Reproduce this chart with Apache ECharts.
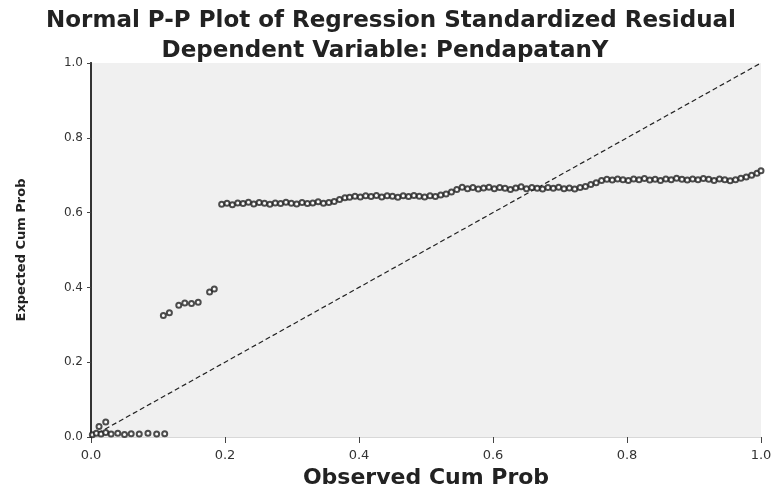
<!DOCTYPE html>
<html>
<head>
<meta charset="utf-8">
<script src="https://cdn.jsdelivr.net/npm/echarts@6/dist/echarts.min.js"></script>
<style>html,body{margin:0;padding:0;background:#fff}#c{width:777px;height:492px}</style>
</head>
<body>
<div id="c"></div>
<script>
var titleLine1 = 'Normal P-P Plot of Regression Standardized Residual';
var titleLine2 = 'Dependent Variable: PendapatanY';
var xAxisName = 'Observed Cum Prob';
var yAxisName = 'Expected Cum Prob';
var tickValues = [0, 0.2, 0.4, 0.6, 0.8, 1.0];
var tickLabels = ['0.0', '0.2', '0.4', '0.6', '0.8', '1.0'];

var observed = [
  0.002,0.008,0.012,0.015,0.022,0.022,0.030,0.040,0.050,0.060,0.072,0.085,0.098,0.110,
  0.108,0.117,0.131,0.140,0.150,0.160,0.177,0.184,
  0.195,0.203,0.211,0.219,0.227,0.235,0.243,0.251,0.259,0.267,0.275,0.283,0.291,0.299,0.307,0.315,0.323,0.331,0.339,0.347,0.355,0.363,0.371,0.379,
  0.386,0.394,0.402,0.410,0.418,0.426,0.434,0.442,0.450,0.458,0.466,0.474,0.482,0.490,0.498,0.506,0.514,0.522,0.530,0.538,0.546,0.554,
  0.562,0.570,0.578,0.586,0.594,0.602,0.610,0.618,0.626,0.634,0.642,0.650,0.658,0.666,0.674,0.682,0.690,0.698,0.706,0.714,0.722,0.730,0.738,0.746,0.754,
  0.762,0.770,0.778,0.786,0.794,0.802,0.810,0.818,0.826,0.834,0.842,0.850,0.858,0.866,0.874,0.882,0.890,0.898,0.906,0.914,0.922,0.930,0.938,0.946,0.954,0.962,0.970,0.978,0.986,0.994,1.000
];
var expected = [
  0.006,0.010,0.028,0.008,0.040,0.012,0.008,0.010,0.007,0.009,0.008,0.010,0.008,0.009,
  0.325,0.332,0.352,0.358,0.357,0.360,0.388,0.396,
  0.622,0.625,0.621,0.626,0.624,0.628,0.623,0.627,0.625,0.622,0.626,0.624,0.628,0.625,0.623,0.627,0.624,0.626,0.629,0.625,0.627,0.630,0.635,0.640,
  0.641,0.644,0.642,0.645,0.643,0.646,0.642,0.645,0.644,0.641,0.645,0.643,0.646,0.644,0.642,0.645,0.643,0.647,0.650,0.655,0.662,0.668,
  0.664,0.667,0.663,0.666,0.668,0.664,0.667,0.665,0.662,0.666,0.669,0.664,0.667,0.665,0.663,0.667,0.665,0.668,0.664,0.666,0.663,0.667,0.670,0.675,0.680,
  0.686,0.689,0.687,0.690,0.688,0.686,0.690,0.688,0.691,0.687,0.689,0.686,0.690,0.688,0.692,0.689,0.687,0.690,0.688,0.691,0.689,0.686,0.690,0.688,0.685,0.688,0.692,0.695,0.700,0.705,0.712
];
var diagX = [0, 1];
var diagY = [0, 1];

var points = observed.map(function (v, i) { return [v, expected[i]]; });
var diag = diagX.map(function (v, i) { return [v, diagY[i]]; });
function fmt(v) {
  for (var i = 0; i < tickValues.length; i++) { if (Math.abs(v - tickValues[i]) < 1e-6) return tickLabels[i]; }
  return '';
}

var chart = echarts.init(document.getElementById('c'), null, {renderer: 'canvas'});
chart.setOption({
  animation: false,
  backgroundColor: '#ffffff',
  title: [
    {text: titleLine1, left: 386, top: 5, textAlign: 'center',
     textStyle: {fontFamily: 'DejaVu Sans', fontWeight: 'bold', fontSize: 23, color: '#222'}},
    {text: titleLine2, left: 380, top: 35, textAlign: 'center',
     textStyle: {fontFamily: 'DejaVu Sans', fontWeight: 'bold', fontSize: 23, color: '#222'}}
  ],
  grid: {left: 91, right: 16, top: 63, bottom: 55, outerBoundsMode: 'none', containLabel: false,
         show: true, backgroundColor: '#f0f0f0', borderWidth: 0},
  xAxis: [
    {type: 'value', min: 0, max: 1, interval: 0.2, position: 'bottom',
     name: xAxisName, nameLocation: 'middle', nameGap: 28,
     nameTextStyle: {fontFamily: 'DejaVu Sans', fontWeight: 'bold', fontSize: 22, color: '#222'},
     axisLine: {show: true, lineStyle: {color: '#e6e6e6', width: 1}},
     axisTick: {show: true, length: 6, lineStyle: {color: '#444'}},
     axisLabel: {formatter: fmt, margin: 12, fontFamily: 'DejaVu Sans', fontSize: 13, color: '#333'},
     splitLine: {show: false}},
    {type: 'value', min: 0, max: 1, position: 'top',
     axisLine: {show: true, lineStyle: {color: '#d8d8d8', width: 1}},
     axisTick: {show: false}, axisLabel: {show: false}, splitLine: {show: false}}
  ],
  yAxis: [
    {type: 'value', min: 0, max: 1, interval: 0.2, position: 'left',
     name: yAxisName, nameLocation: 'middle', nameGap: 63, nameRotate: 90,
     nameTextStyle: {fontFamily: 'DejaVu Sans', fontWeight: 'bold', fontSize: 13, color: '#222'},
     axisLine: {show: true, lineStyle: {color: '#555', width: 2}},
     axisTick: {show: true, length: 4, lineStyle: {color: '#444'}},
     axisLabel: {formatter: fmt, margin: 8, fontFamily: 'DejaVu Sans', fontSize: 12, color: '#333'},
     splitLine: {show: false}},
    {type: 'value', min: 0, max: 1, position: 'right',
     axisLine: {show: true, lineStyle: {color: '#333', width: 2}},
     axisTick: {show: false}, axisLabel: {show: false}, splitLine: {show: false}}
  ],
  series: [
    {type: 'line', data: diag, showSymbol: false, symbol: 'none',
     lineStyle: {color: '#222', width: 1.2, type: [5, 3]}, z: 2},
    {type: 'scatter', data: points, symbol: 'emptyCircle', symbolSize: 5,
     itemStyle: {color: '#222', borderColor: '#222', borderWidth: 1}, z: 3}
  ]
});
</script>
</body>
</html>
